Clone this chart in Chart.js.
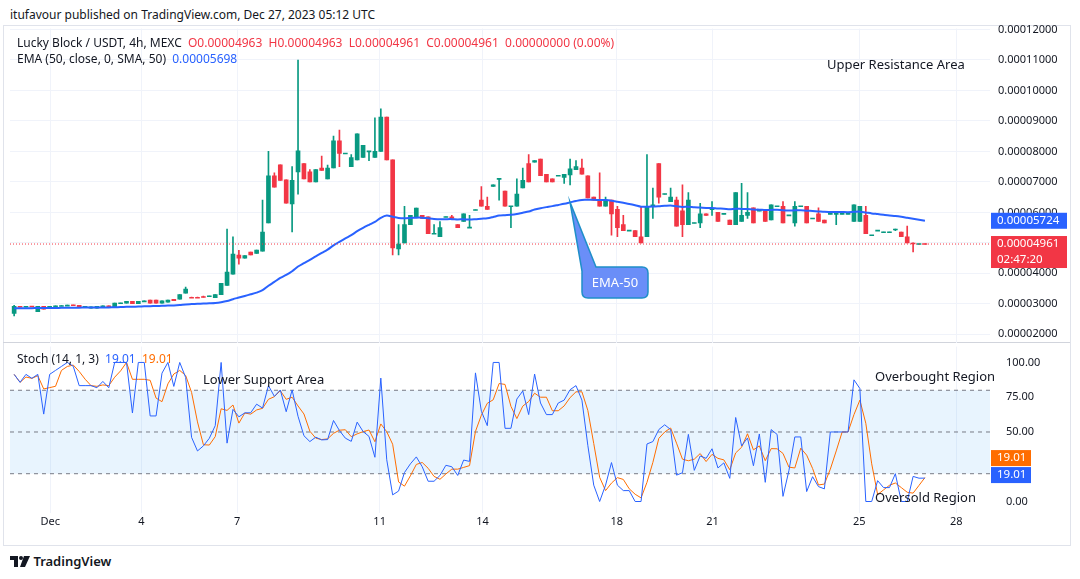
<!DOCTYPE html>
<html>
<head>
<meta charset="utf-8">
<script src="https://cdn.jsdelivr.net/npm/chart.js@4.4.0/dist/chart.umd.min.js"></script>
<style>
  body { margin:0; width:1080px; height:579px; background:#fff; font-family:"Noto Sans", sans-serif; color:#131722; overflow:hidden; }
  .txt { position:absolute; font-size:12px; white-space:nowrap; }
  #frame { position:absolute; left:3px; top:25px; width:1066px; height:519px; border:1px solid #e0e3eb; }
  #sep { position:absolute; left:3px; top:342px; width:1067px; height:1px; background:#d1d4dc; }
  #top { position:absolute; left:0; top:14px; width:1075px; height:344px; }
  #bot { position:absolute; left:0; top:331.5px; width:1075px; height:213.5px; }
</style>
</head>
<body>
<div class="txt" style="left:10px;top:6px;">itufavour published on TradingView.com, Dec 27, 2023 05:12 UTC</div>
<div id="frame"></div>
<div id="sep"></div>
<div id="top"><canvas id="priceChart"></canvas></div>
<div id="bot"><canvas id="stochChart"></canvas></div>
<div class="txt" style="left:17px;top:34px;">Lucky Block / USDT, 4h, MEXC&nbsp; <span style="color:#f23645">O0.00004963&nbsp; H0.00004963&nbsp; L0.00004961&nbsp; C0.00004961&nbsp; 0.00000000 (0.00%)</span></div>
<div class="txt" style="left:17px;top:50px;">EMA (50, close, 0, SMA, 50)&nbsp; <span style="color:#2962ff">0.00005698</span></div>
<div class="txt" style="left:17px;top:350px;">Stoch (14, 1, 3)&nbsp; <span style="color:#2962ff">19.01</span>&nbsp; <span style="color:#ff6d00">19.01</span></div>
<div class="txt" style="left:10px;top:552px;font-size:13px;">
  <svg width="20" height="11" viewBox="0 0 20 11" style="vertical-align:-1px"><path d="M0 0h8v11H4V4H0z" fill="#131722"/><circle cx="11" cy="2" r="2" fill="#131722"/><path d="M14 0h6l-5 11h-5z" fill="#131722"/></svg>
  <span style="font-weight:600">TradingView</span></div>
<script>
// prices in units of 1e-5 USDT, one entry per 4h candle
const opens = [
  2.68,2.92,2.90,2.92,2.74,2.92,2.84,2.92,2.93,2.94,
  2.96,2.95,2.90,2.86,2.86,2.92,2.93,2.90,3.02,3.02,
  3.08,3.00,3.08,3.12,3.12,3.02,3.05,3.15,3.15,3.35,
  3.22,3.22,3.25,3.25,3.20,3.30,3.60,3.97,4.60,4.50,
  4.70,4.65,4.73,5.65,7.20,7.56,7.07,6.28,7.33,7.60,
  7.33,7.00,7.45,7.10,7.46,8.35,7.93,7.50,7.72,7.80,
  8.00,7.80,8.00,9.13,7.72,4.80,5.00,5.60,5.85,5.90,
  5.85,5.30,5.20,5.85,5.85,5.60,5.70,5.50,6.08,6.40,
  6.20,6.85,7.10,6.70,6.20,6.20,6.80,7.60,7.65,7.75,
  7.25,7.10,7.20,7.15,7.23,7.40,7.45,7.20,6.50,6.40,
  6.20,6.40,6.10,5.60,5.40,5.40,5.20,5.20,6.20,7.60,
  6.60,6.35,6.40,6.05,5.60,5.65,5.65,5.95,6.10,6.00,
  5.95,5.75,5.60,5.70,5.90,6.15,6.05,6.05,5.75,6.20,
  6.20,5.90,5.65,6.20,6.20,5.80,5.95,5.75,5.95,5.95,
  5.95,5.95,5.70,5.70,5.90,5.25,5.40,5.35,5.35,5.42,
  5.35,5.20,5.00,4.96,4.963
];
const closes = [
  2.92,2.90,2.92,2.91,2.92,2.82,2.92,2.93,2.94,2.96,
  2.95,2.90,2.90,2.90,2.92,2.93,2.92,3.02,3.02,3.08,
  3.00,3.08,3.10,3.02,3.02,3.10,3.12,3.10,3.30,3.48,
  3.20,3.20,3.22,3.25,3.30,3.67,4.04,4.63,4.50,4.58,
  4.60,4.76,5.35,7.20,6.83,7.05,6.30,7.05,8.02,7.10,
  7.00,7.40,7.38,7.45,8.35,7.93,7.93,7.80,8.58,8.20,
  8.00,8.00,9.13,7.72,4.83,4.96,5.60,5.90,6.14,5.80,
  5.30,5.30,5.50,5.85,5.80,5.50,5.95,5.50,6.08,6.20,
  6.10,6.90,7.10,6.20,6.20,6.60,7.05,7.00,7.70,7.20,
  7.00,7.00,7.20,7.25,7.43,7.50,7.25,6.47,6.40,6.20,
  6.40,5.95,5.50,5.40,5.40,5.20,5.00,6.20,6.25,6.50,
  6.60,6.50,5.55,5.60,6.40,5.65,5.95,5.90,6.10,5.70,
  5.95,5.60,6.65,5.90,6.00,5.65,6.05,5.70,6.25,6.20,
  5.65,5.90,6.20,6.20,5.65,5.80,5.70,5.65,5.95,5.95,
  5.95,5.95,6.25,6.20,5.30,5.25,5.40,5.35,5.35,5.45,
  5.20,5.00,4.98,4.96,4.961
];
// wick extremes where they stick out of the body (candle index: value)
const highMarks = {0:2.95,29:3.55,36:5.45,37:5.2,38:4.75,42:6.4,43:8.0,44:7.3,47:7.5,48:11.0,50:7.4,52:7.85,53:7.55,54:8.5,55:8.7,57:7.9,61:9.1,62:9.4,65:5.6,66:6.2,71:5.6,72:5.7,74:5.9,77:5.9,79:6.85,80:6.5,85:7.1,86:7.45,87:7.9,94:7.75,95:7.7,96:7.75,99:7.3,100:6.5,102:6.2,103:5.9,106:6.2,107:7.9,108:6.8,111:6.8,112:6.5,113:6.9,114:6.65,116:6.3,118:6.35,123:6.95,124:6.65,130:6.35,132:6.35,136:6.15,144:6.2,151:5.55};
const lowMarks = {0:2.6,38:4.3,47:5.36,48:6.6,55:7.5,60:7.7,64:4.6,65:4.6,82:6.4,84:5.5,93:6.95,94:6.9,101:5.25,102:5.2,108:5.8,109:6.3,113:5.2,116:5.5,118:5.9,124:5.8,132:5.55,139:5.6,149:5.4,152:4.7};
const dateLabels = ['Dec','4','7','11','14','18','21','25','28'];
const dateIdx = [6.1,21.5,37.7,61.8,79.2,101.9,118.1,142.9,159.3];
const priceTicks = [2,3,4,5,6,7,8,9,10,11,12];
const stochTicks = [0,50,75,100];

const UP = '#089981', DOWN = '#f23645';
const highs = closes.map((c, i) => highMarks[i] ?? Math.max(c, opens[i]));
const lows = closes.map((c, i) => lowMarks[i] ?? Math.min(c, opens[i]));

// EMA 50
const ema = [];
closes.forEach((c, i) => { ema.push(i === 0 ? 2.85 : ema[i-1] + (c - ema[i-1]) * 2 / 51); });

// Stoch 14,1,3
const kLine = closes.map((c, i) => {
  const s = Math.max(0, i - 13);
  const hh = Math.max(...highs.slice(s, i+1)), ll = Math.min(...lows.slice(s, i+1));
  return hh === ll ? 50 : (c - ll) / (hh - ll) * 100;
});
const dLine = kLine.map((k, i) => i < 2 ? k : (kLine[i] + kLine[i-1] + kLine[i-2]) / 3);

const fmt = v => (v * 1e-5).toFixed(8);
const font = { family: 'Noto Sans', size: 11 };
const xScale = (showTicks) => ({
  type: 'linear', min: -0.7, max: 165, offset: false,
  afterBuildTicks: s => { s.ticks = dateIdx.map(v => ({ value: v })); },
  ticks: { display: showTicks, color: '#131722', font: { family:'Noto Sans', size: 11 }, maxRotation: 0,
           callback: (v) => dateLabels[dateIdx.indexOf(v)] },
  grid: { color: '#f0f3fa', drawTicks: false, offset: false },
  border: { display: false },
  afterFit: s => { if (showTicks) s.height = 33; }
});

const overlayTop = {
  id: 'overlayTop',
  afterDatasetsDraw(chart) {
    const { ctx, scales: { x, y }, chartArea } = chart;
    ctx.save();
    const last = closes[closes.length - 1];
    const ly = y.getPixelForValue(last);
    ctx.strokeStyle = DOWN; ctx.setLineDash([1, 2]); ctx.lineWidth = 1;
    ctx.beginPath(); ctx.moveTo(chartArea.left, ly); ctx.lineTo(chartArea.right, ly); ctx.stroke();
    ctx.setLineDash([]);
    // EMA-50 callout
    const px = x.getPixelForValue(94), py = y.getPixelForValue(ema[94]);
    ctx.fillStyle = '#6a8ef8'; ctx.strokeStyle = '#1f8fc8'; ctx.lineWidth = 1.5;
    const bx = 582, by = 253, bw = 66, bh = 31;
    ctx.beginPath();
    ctx.moveTo(px, py); ctx.lineTo(bx + 14, by); ctx.lineTo(bx + bw - 6, by);
    ctx.quadraticCurveTo(bx + bw, by, bx + bw, by + 6);
    ctx.lineTo(bx + bw, by + bh - 6); ctx.quadraticCurveTo(bx + bw, by + bh, bx + bw - 6, by + bh);
    ctx.lineTo(bx + 6, by + bh); ctx.quadraticCurveTo(bx, by + bh, bx, by + bh - 6);
    ctx.lineTo(bx, by + 4); ctx.closePath();
    ctx.fill(); ctx.stroke();
    ctx.fillStyle = '#fff'; ctx.font = '13px "Noto Sans"'; ctx.textAlign = 'center'; ctx.textBaseline = 'middle';
    ctx.fillText('EMA-50', bx + bw / 2, by + bh / 2 + 1);
    ctx.fillStyle = '#131722'; ctx.textAlign = 'left'; ctx.font = '13px "Noto Sans"';
    ctx.fillText('Upper Resistance Area', 827, 51);
    const tag = (val, col, text2) => {
      const yy = y.getPixelForValue(val);
      const h = text2 ? 32 : 16;
      ctx.fillStyle = col; ctx.fillRect(chartArea.right + 1, yy - 8, 76, h);
      ctx.fillStyle = '#fff'; ctx.font = '11.5px "Noto Sans"'; ctx.textAlign = 'left'; ctx.textBaseline = 'middle';
      ctx.fillText(fmt(val), chartArea.right + 7, yy);
      if (text2) ctx.fillText(text2, chartArea.right + 7, yy + 16);
    };
    tag(ema[ema.length - 1], '#2962ff');
    tag(last, DOWN, '02:47:20');
    ctx.restore();
  }
};

new Chart(document.getElementById('priceChart'), {
  data: {
    datasets: [
      { type: 'bar', data: closes.map((c, i) => ({ x: i, y: [lows[i], highs[i]] })),
        backgroundColor: closes.map((c, i) => c >= opens[i] ? UP : DOWN), barThickness: 1, grouped: false, order: 3 },
      { type: 'bar', data: closes.map((c, i) => {
          const a = Math.min(c, opens[i]), b = Math.max(c, opens[i]);
          return { x: i, y: b - a < 0.03 ? [a - 0.015, a + 0.015] : [a, b] };
        }),
        backgroundColor: closes.map((c, i) => c >= opens[i] ? UP : DOWN), barThickness: 4, grouped: false, order: 2 },
      { type: 'line', data: ema.map((v, i) => ({ x: i, y: v })), borderColor: '#2962ff', borderWidth: 2,
        pointRadius: 0, tension: 0.3, order: 1 }
    ]
  },
  options: {
    animation: false, responsive: true, maintainAspectRatio: false,
    layout: { padding: { left: 10, top: 0, bottom: 0 } },
    plugins: { legend: { display: false }, tooltip: { enabled: false } },
    scales: {
      x: xScale(false),
      y: { position: 'right', min: 1.70, max: 12.03,
           afterBuildTicks: s => { s.ticks = priceTicks.map(v => ({ value: v })); },
           ticks: { color: '#131722', font, padding: 8, callback: v => fmt(v) },
           grid: { color: '#f0f3fa', drawTicks: false }, border: { display: false },
           afterFit: s => { s.width = 85; } }
    }
  },
  plugins: [overlayTop]
});

const overlayBot = {
  id: 'overlayBot',
  beforeDatasetsDraw(chart) {
    const { ctx, scales: { y }, chartArea } = chart;
    ctx.save();
    const y80 = y.getPixelForValue(80), y20 = y.getPixelForValue(20);
    ctx.fillStyle = 'rgba(33,150,243,0.1)';
    ctx.fillRect(chartArea.left, y80, chartArea.width, y20 - y80);
    ctx.strokeStyle = '#787b86'; ctx.setLineDash([4, 4]); ctx.lineWidth = 1;
    [80, 50, 20].forEach(v => {
      const yy = y.getPixelForValue(v);
      ctx.beginPath(); ctx.moveTo(chartArea.left, yy); ctx.lineTo(chartArea.right, yy); ctx.stroke();
    });
    ctx.restore();
  },
  afterDatasetsDraw(chart) {
    const { ctx, scales: { y }, chartArea } = chart;
    ctx.save();
    ctx.fillStyle = '#131722'; ctx.font = '13px "Noto Sans"'; ctx.textBaseline = 'middle';
    ctx.fillText('Lower Support Area', 203, 48.5);
    ctx.fillText('Overbought Region', 875, 45.5);
    ctx.fillText('Oversold Region', 875, 166.5);
    const tag = (val, col, dy) => {
      const yy = y.getPixelForValue(val) + dy;
      ctx.fillStyle = col; ctx.fillRect(chartArea.right + 1, yy - 8, 40, 16);
      ctx.fillStyle = '#fff'; ctx.font = '11.5px "Noto Sans"';
      ctx.fillText('19.01', chartArea.right + 7, yy);
    };
    tag(19.01, '#ff6d00', -17);
    tag(19.01, '#2962ff', 0);
    ctx.restore();
  }
};

new Chart(document.getElementById('stochChart'), {
  type: 'line',
  data: {
    datasets: [
      { data: kLine.map((v, i) => ({ x: i, y: v })), borderColor: '#2962ff', borderWidth: 1, pointRadius: 0 },
      { data: dLine.map((v, i) => ({ x: i, y: v })), borderColor: '#ff6d00', borderWidth: 1, pointRadius: 0 }
    ]
  },
  options: {
    animation: false, responsive: true, maintainAspectRatio: false,
    layout: { padding: { left: 10, top: 0, bottom: 0 } },
    plugins: { legend: { display: false }, tooltip: { enabled: false } },
    scales: {
      x: xScale(true),
      y: { position: 'right', min: -7.9, max: 111.4,
           afterBuildTicks: s => { s.ticks = stochTicks.map(v => ({ value: v })); },
           ticks: { color: '#131722', font, padding: 8, callback: v => v.toFixed(2) },
           grid: { display: false }, border: { display: false },
           afterFit: s => { s.width = 85; } }
    }
  },
  plugins: [overlayBot]
});
</script>
</body>
</html>
